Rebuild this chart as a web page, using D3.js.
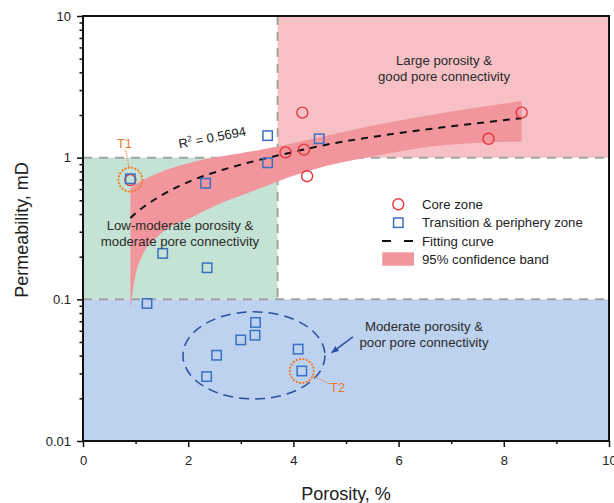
<!DOCTYPE html>
<html>
<head>
<meta charset="utf-8">
<script src="https://cdn.jsdelivr.net/npm/d3@7"></script>
<style>
body{margin:0;background:#fff}
svg{display:block;font-family:Arial,"Liberation Sans",sans-serif}
</style>
</head>
<body>
<div id="chart"></div>
<script>
// data
const coreX = [0.9, 4.17, 3.85, 4.2, 4.26, 7.71, 8.34]
const coreY = [0.695, 2.08, 1.09, 1.14, 0.74, 1.36, 2.08]

const transX = [0.9, 2.33, 3.51, 3.51, 4.49, 1.515, 2.36, 1.217, 3.28, 3.27, 3.0, 2.54, 2.35, 4.09, 4.16]
const transY = [0.71, 0.66, 1.43, 0.92, 1.36, 0.211, 0.167, 0.0935, 0.0687, 0.0558, 0.0517, 0.0403, 0.0285, 0.0445, 0.0312]

const fitX = [0.9, 1.0, 1.12, 1.43, 2.07, 2.7, 3.33, 3.97, 4.6, 5.5, 6.8, 8.34]
const fitY = [0.375, 0.405, 0.44, 0.525, 0.69, 0.83, 0.96, 1.09, 1.23, 1.40, 1.63, 1.90]
const bandLow = [0.085, 0.15, 0.2, 0.28, 0.38, 0.49, 0.60, 0.74, 0.87, 1.02, 1.22, 1.30]
const bandHigh = [0.61, 0.65, 0.69, 0.78, 0.93, 1.03, 1.13, 1.26, 1.42, 1.68, 2.06, 2.51]

const xTicks = [0, 2, 4, 6, 8, 10]
const xMinor = [1, 3, 5, 7, 9]
const yTicks = [0.01, 0.1, 1, 10]
const yTickLabels = ["0.01", "0.1", "1", "10"]

const legendLabels = ["Core zone", "Transition & periphery zone", "Fitting curve", "95% confidence band"]

const width = 614, height = 503
const mLeft = 83, mRight = 609, mTop = 16, mBottom = 441

const x = d3.scaleLinear().domain([0, 10]).range([mLeft, mRight])
const y = d3.scaleLog().domain([0.01, 10]).range([mBottom, mTop])

const svg = d3.select("#chart").append("svg")
    .attr("width", width)
    .attr("height", height)
    .attr("viewBox", [0, 0, width, height])

svg.append("defs").append("marker")
    .attr("id", "arrow")
    .attr("viewBox", "0 0 10 10")
    .attr("refX", 9).attr("refY", 5)
    .attr("markerWidth", 5).attr("markerHeight", 5)
    .attr("orient", "auto")
    .append("path").attr("d", "M0,1 L10,5 L0,9 Z").attr("fill", "#2b4ea3")

// zones
const cut = 3.7
svg.append("rect").attr("x", x(cut)).attr("y", y(10)).attr("width", x(10) - x(cut)).attr("height", y(1) - y(10)).attr("fill", "#f6c0c5")
svg.append("rect").attr("x", x(0)).attr("y", y(1)).attr("width", x(cut) - x(0)).attr("height", y(0.1) - y(1)).attr("fill", "#c5e3d4")
svg.append("rect").attr("x", x(0)).attr("y", y(0.1)).attr("width", x(10) - x(0)).attr("height", y(0.01) - y(0.1)).attr("fill", "#bcd2ee")

const grey = svg.append("g").attr("stroke", "#a3a3a3").attr("stroke-width", 2).attr("stroke-dasharray", "9,7")
grey.append("line").attr("x1", x(0)).attr("x2", x(10)).attr("y1", y(1)).attr("y2", y(1))
grey.append("line").attr("x1", x(0)).attr("x2", x(10)).attr("y1", y(0.1)).attr("y2", y(0.1))
grey.append("line").attr("x1", x(cut)).attr("x2", x(cut)).attr("y1", y(10)).attr("y2", y(0.1))

// confidence band
const bandData = fitX.map((d, i) => ({x: d, lo: bandLow[i], hi: bandHigh[i], f: fitY[i]}))
svg.append("path")
    .datum(bandData)
    .attr("fill", "#f0969c")
    .attr("d", d3.area().curve(d3.curveMonotoneX).x(d => x(d.x)).y0(d => y(d.lo)).y1(d => y(d.hi)))

// ellipse + arrow
svg.append("ellipse")
    .attr("cx", x(3.25)).attr("cy", y(0.0402))
    .attr("rx", x(4.6) - x(3.25)).attr("ry", y(0.0402 / 2.03) - y(0.0402))
    .attr("fill", "none").attr("stroke", "#2b4ea3").attr("stroke-width", 1.5).attr("stroke-dasharray", "10,6")
svg.append("line")
    .attr("x1", x(5.13)).attr("y1", y(0.0543)).attr("x2", x(4.73)).attr("y2", y(0.0421))
    .attr("stroke", "#2b4ea3").attr("stroke-width", 1.5).attr("marker-end", "url(#arrow)")

// fitting curve
svg.append("path")
    .datum(bandData)
    .attr("fill", "none").attr("stroke", "#111").attr("stroke-width", 2).attr("stroke-dasharray", "7,6")
    .attr("d", d3.line().curve(d3.curveMonotoneX).x(d => x(d.x)).y(d => y(d.f)))

// points
svg.append("g").selectAll("circle")
    .data(coreX.map((d, i) => [d, coreY[i]]))
    .enter().append("circle")
    .attr("cx", d => x(d[0])).attr("cy", d => y(d[1])).attr("r", 5.5)
    .attr("fill", "none").attr("stroke", "#e8333d").attr("stroke-width", 1.4)

svg.append("g").selectAll("rect")
    .data(transX.map((d, i) => [d, transY[i]]))
    .enter().append("rect")
    .attr("x", d => x(d[0]) - 4.7).attr("y", d => y(d[1]) - 4.7).attr("width", 9.4).attr("height", 9.4)
    .attr("fill", "none").attr("stroke", "#3a70c2").attr("stroke-width", 1.5)

// T1 / T2 callouts
const orange = "#f07a2a"
const dot = svg.append("g").attr("fill", "none").attr("stroke", orange).attr("stroke-width", 2.2).attr("stroke-dasharray", "0.1,3.3").attr("stroke-linecap", "round")
dot.append("circle").attr("cx", x(0.9)).attr("cy", y(0.70)).attr("r", 12)
dot.append("circle").attr("cx", x(4.16)).attr("cy", y(0.0312)).attr("r", 12)
const dot2 = svg.append("g").attr("stroke", orange).attr("stroke-width", 1.3).attr("stroke-dasharray", "0.1,2.4").attr("stroke-linecap", "round")
dot2.append("line").attr("x1", 126).attr("y1", 151).attr("x2", 129).attr("y2", 167)
dot2.append("line").attr("x1", 313).attr("y1", 376).attr("x2", 330).attr("y2", 384)
svg.append("text").attr("x", 124.5).attr("y", 147.7).attr("text-anchor", "middle").attr("font-size", 13).attr("fill", orange).text("T1")
svg.append("text").attr("x", 330).attr("y", 391.7).attr("font-size", 13).attr("fill", orange).text("T2")

// zone labels
const zoneText = (cx, cy, lines) => {
    lines.forEach((t, i) => {
        svg.append("text").attr("x", cx).attr("y", cy + i * 15.8)
            .attr("text-anchor", "middle").attr("font-size", 13.2).attr("fill", "#2a2a2a").text(t)
    })
}
zoneText(444, 65, ["Large porosity &", "good pore connectivity"])
zoneText(180, 230, ["Low-moderate porosity &", "moderate pore connectivity"])
zoneText(424, 331, ["Moderate porosity &", "poor pore connectivity"])

// R2 label
const r2 = svg.append("text").attr("transform", "translate(213,142) rotate(-11)")
    .attr("text-anchor", "middle").attr("font-size", 13).attr("fill", "#222")
r2.append("tspan").text("R")
r2.append("tspan").attr("font-size", 8).attr("dy", -5).text("2")
r2.append("tspan").attr("dy", 5).text(" = 0.5694")

// legend
const lg = svg.append("g")
const rowY = [204.3, 222.7, 240.9, 259]
lg.append("circle").attr("cx", 398.3).attr("cy", rowY[0]).attr("r", 5.5).attr("fill", "none").attr("stroke", "#e8333d").attr("stroke-width", 1.4)
lg.append("rect").attr("x", 398.3 - 4.7).attr("y", rowY[1] - 4.7).attr("width", 9.4).attr("height", 9.4).attr("fill", "none").attr("stroke", "#3a70c2").attr("stroke-width", 1.5)
lg.append("line").attr("x1", 382).attr("x2", 413).attr("y1", rowY[2]).attr("y2", rowY[2]).attr("stroke", "#111").attr("stroke-width", 2).attr("stroke-dasharray", "9,13")
lg.append("rect").attr("x", 382.3).attr("y", rowY[3] - 6.7).attr("width", 31.7).attr("height", 13.4).attr("fill", "#f0969c")
legendLabels.forEach((t, i) => {
    lg.append("text").attr("x", 422).attr("y", rowY[i] + 4.6).attr("font-size", 13.2).attr("fill", "#222").text(t)
})

// axes
const xAxis = svg.append("g").attr("transform", `translate(0,${mBottom})`)
    .call(d3.axisBottom(x).tickValues(xTicks).tickSize(6).tickPadding(9).tickFormat(d3.format("d")))
const xMin = svg.append("g").attr("transform", `translate(0,${mBottom})`)
    .call(d3.axisBottom(x).tickValues(xMinor).tickSize(3).tickFormat(""))

const yMinorVals = []
;[0.01, 0.1, 1].forEach(dec => d3.range(2, 10).forEach(k => yMinorVals.push(dec * k)))
const yAxis = svg.append("g").attr("transform", `translate(${mLeft},0)`)
    .call(d3.axisLeft(y).tickValues(yTicks).tickSize(6).tickPadding(6).tickFormat((d, i) => yTickLabels[i]))
const yMin = svg.append("g").attr("transform", `translate(${mLeft},0)`)
    .call(d3.axisLeft(y).tickValues(yMinorVals).tickSize(3.5).tickFormat(""))

;[xAxis, xMin, yAxis, yMin].forEach(g => {
    g.select(".domain").remove()
    g.selectAll(".tick line").attr("stroke", "#111").attr("stroke-width", 1.5)
    g.selectAll("text").attr("font-size", 13).attr("fill", "#222").attr("font-family", "Arial, 'Liberation Sans', sans-serif")
})

svg.append("rect").attr("x", mLeft).attr("y", mTop).attr("width", mRight - mLeft).attr("height", mBottom - mTop)
    .attr("fill", "none").attr("stroke", "#111").attr("stroke-width", 2)

// axis titles
svg.append("text").attr("x", (mLeft + mRight) / 2).attr("y", 500).attr("text-anchor", "middle")
    .attr("font-size", 18).attr("fill", "#222").text("Porosity, %")
svg.append("text").attr("transform", "translate(28,230) rotate(-90)").attr("text-anchor", "middle")
    .attr("font-size", 18).attr("fill", "#222").text("Permeability, mD")
</script>
</body>
</html>
